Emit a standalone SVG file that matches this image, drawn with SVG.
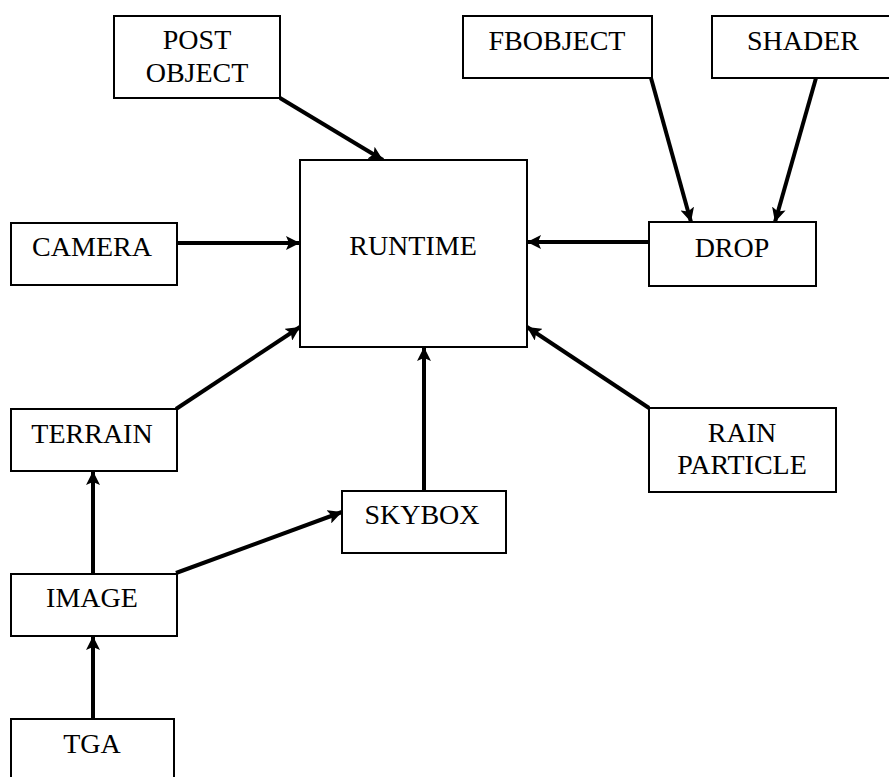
<svg xmlns="http://www.w3.org/2000/svg" width="889" height="777" viewBox="0 0 889 777">
<style>
.box{fill:#fff;stroke:#000;stroke-width:2}
.lbl{font-family:"Liberation Serif","Times New Roman",serif;font-size:28px;fill:#000;text-anchor:middle}
.con{stroke:#000;stroke-width:4;fill:none;marker-end:url(#ah)}
</style>
<defs>
<marker id="ah" markerUnits="userSpaceOnUse" markerWidth="16" markerHeight="14" refX="14" refY="7" orient="auto" viewBox="0 0 16 14">
<path d="M0,0 L14,7 L0,14 L3,7 Z" fill="#000"/>
</marker>
</defs>
<rect width="889" height="777" fill="#fff"/>
<g id="connectors">
<line class="con" x1="280" y1="98" x2="383" y2="160"/>
<line class="con" x1="651" y1="78" x2="691" y2="222"/>
<line class="con" x1="816" y1="78" x2="775" y2="222"/>
<line class="con" x1="649" y1="242" x2="527" y2="242"/>
<line class="con" x1="177" y1="243" x2="300" y2="243"/>
<line class="con" x1="176" y1="409" x2="300" y2="327"/>
<line class="con" x1="649" y1="408" x2="527" y2="327"/>
<line class="con" x1="424" y1="491" x2="424" y2="347"/>
<line class="con" x1="93" y1="574" x2="93" y2="471"/>
<line class="con" x1="176" y1="573" x2="342" y2="512"/>
<line class="con" x1="93" y1="719" x2="93" y2="636"/>
</g>
<g id="runtime"><rect class="box" x="300" y="160" width="227" height="187"/><text class="lbl" x="413" y="255">RUNTIME</text></g>
<g id="postobject"><rect class="box" x="114" y="16" width="166" height="82"/><text class="lbl" x="197" y="49">POST</text><text class="lbl" x="197" y="82">OBJECT</text></g>
<g id="fbobject"><rect class="box" x="463" y="16" width="189" height="62"/><text class="lbl" x="557" y="50">FBOBJECT</text></g>
<g id="shader"><rect class="box" x="712" y="16" width="190" height="62"/><text class="lbl" x="803" y="50">SHADER</text></g>
<g id="drop"><rect class="box" x="649" y="222" width="167" height="64"/><text class="lbl" x="732" y="257">DROP</text></g>
<g id="camera"><rect class="box" x="11" y="223" width="166" height="62"/><text class="lbl" x="92" y="256">CAMERA</text></g>
<g id="terrain"><rect class="box" x="11" y="409" width="166" height="62"/><text class="lbl" x="92" y="443">TERRAIN</text></g>
<g id="rainparticle"><rect class="box" x="649" y="408" width="187" height="84"/><text class="lbl" x="742" y="442">RAIN</text><text class="lbl" x="742" y="474">PARTICLE</text></g>
<g id="skybox"><rect class="box" x="342" y="491" width="164" height="62"/><text class="lbl" x="422" y="524">SKYBOX</text></g>
<g id="image"><rect class="box" x="11" y="574" width="166" height="62"/><text class="lbl" x="92" y="607">IMAGE</text></g>
<g id="tga"><rect class="box" x="11" y="719" width="163" height="80"/><text class="lbl" x="92" y="753">TGA</text></g>
</svg>
